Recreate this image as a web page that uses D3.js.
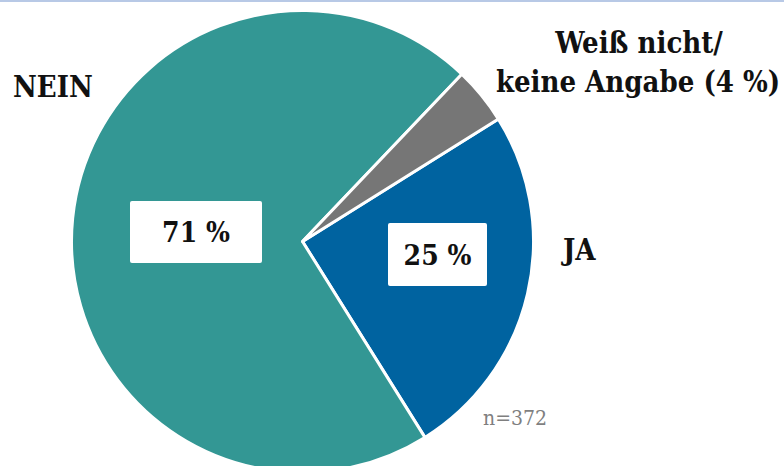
<!DOCTYPE html>
<html>
<head>
<meta charset="utf-8">
<script src="https://cdn.jsdelivr.net/npm/d3@7"></script>
<style>
  body { margin: 0; background: #fff; }
  svg { display: block; }
  text { font-family: "DejaVu Serif", "Liberation Serif", serif; font-stretch: condensed; }
</style>
</head>
<body>
<div id="chart"></div>
<script>
const categories = ['JA', 'NEIN', 'Weiß nicht/ keine Angabe'];
const values = [25, 71, 4];
const colours = ['#0063a0', '#339794', '#767676'];
const sampleNote = 'n=372';

const width = 784, height = 466;
const cx = 302.5, cy = 241.5, radius = 231;

const svg = d3.select("#chart")
              .append("svg")
                .attr("width", width)
                .attr("height", height);

// thin line at the top edge
svg.append("rect")
   .attr("x", 0).attr("y", 0)
   .attr("width", width).attr("height", 2)
   .attr("fill", "#b8c9e6");

const startDeg = 58;
const pie = d3.pie()
              .sort(null)
              .value(d => d)
              .startAngle(startDeg * Math.PI / 180)
              .endAngle((startDeg + 360) * Math.PI / 180);

const arc = d3.arc().innerRadius(0).outerRadius(radius);
const arcs = pie(values);

const g = svg.append("g").attr("transform", `translate(${cx}, ${cy})`);

g.selectAll("path")
 .data(arcs)
 .enter()
 .append("path")
   .attr("d", arc)
   .attr("fill", (d, i) => colours[i])
   .attr("stroke", "#fff")
   .attr("stroke-width", 3)
   .attr("stroke-linejoin", "round");

// value boxes inside the slices
const boxes = [
  { i: 1, x: 130, y: 201, w: 132, h: 62 },
  { i: 0, x: 388, y: 223, w: 99, h: 63 }
];
boxes.forEach(b => {
  svg.append("rect")
     .attr("x", b.x).attr("y", b.y)
     .attr("width", b.w).attr("height", b.h)
     .attr("rx", 2)
     .attr("fill", "#fff");
  svg.append("text")
     .attr("x", b.x + b.w / 2)
     .attr("y", b.y + b.h / 2 + 10)
     .attr("text-anchor", "middle")
     .attr("font-size", 28)
     .attr("font-weight", "bold")
     .attr("fill", "#111")
     .text(values[b.i] + " %");
});

// category labels
svg.append("text")
   .attr("x", 13).attr("y", 97)
   .attr("font-size", 29).attr("font-weight", "bold").attr("fill", "#111")
   .text(categories[1]);

svg.append("text")
   .attr("x", 563).attr("y", 260)
   .attr("font-size", 29).attr("font-weight", "bold").attr("fill", "#111")
   .text(categories[0]);

const wn = svg.append("text")
   .attr("text-anchor", "middle")
   .attr("font-size", 29).attr("font-weight", "bold").attr("fill", "#111");
wn.append("tspan").attr("x", 639).attr("y", 53).text("Weiß nicht/");
wn.append("tspan").attr("x", 638).attr("y", 92).text("keine Angabe (" + values[2] + " %)");

svg.append("text")
   .attr("x", 483).attr("y", 425)
   .attr("font-size", 21).attr("fill", "#7f7f7f")
   .text(sampleNote);
</script>
</body>
</html>
